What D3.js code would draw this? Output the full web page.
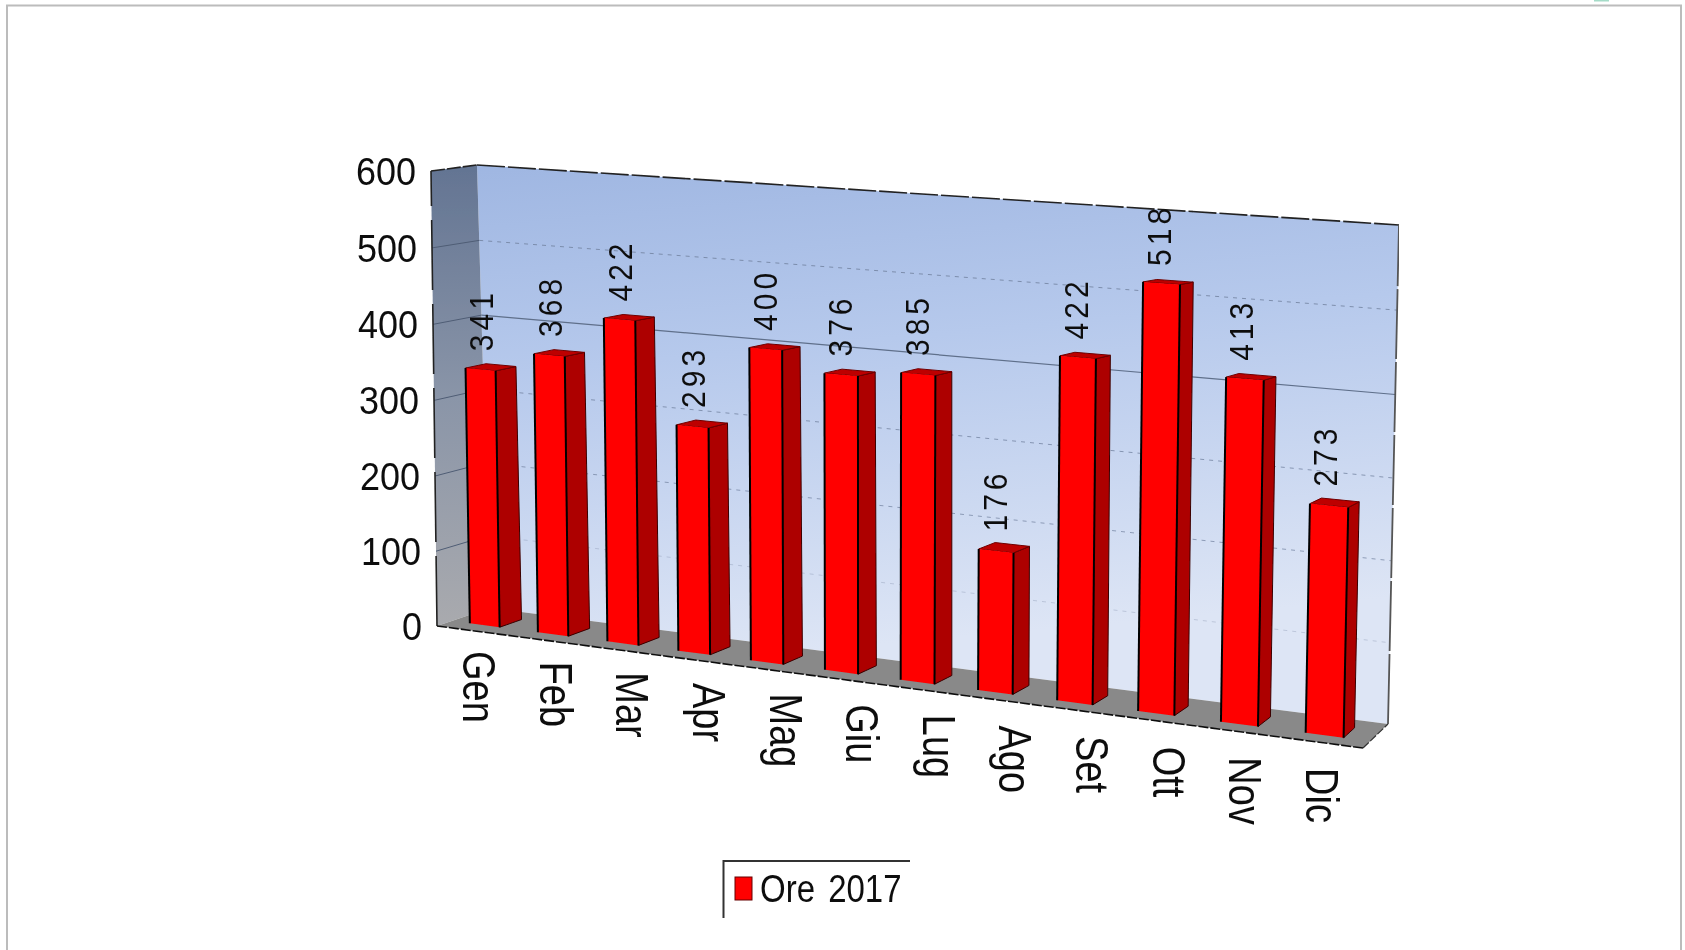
<!DOCTYPE html>
<html>
<head>
<meta charset="utf-8">
<script src="https://cdn.jsdelivr.net/npm/d3@7"></script>
<style>
html,body{margin:0;padding:0;background:#fff;}
svg{display:block;}
text{font-family:"Liberation Sans",Arial,sans-serif;fill:#111;}
</style>
</head>
<body>
<svg id="c" width="1685" height="950"></svg>
<script>
const categories = ["Gen","Feb","Mar","Apr","Mag","Giu","Lug","Ago","Set","Ott","Nov","Dic"];
const values = [341,368,422,293,400,376,385,176,422,518,413,273];
const yTicks = [0,100,200,300,400,500,600];
const seriesName = "Ore 2017";

// corners of the two planes of the 3D box: [bottom-left, bottom-right, top-right, top-left]
const frontQuad = [[437,626],[1363,748],[1374,228],[431,171]];
const backQuad  = [[490,608],[1388,724],[1399,225],[477,165]];
const barZ = [0.28,0.70];

function homography(q){
  const [[x0,y0],[x1,y1],[x2,y2],[x3,y3]] = q;
  const dx1=x1-x2,dx2=x3-x2,sx=x0-x1+x2-x3,dy1=y1-y2,dy2=y3-y2,sy=y0-y1+y2-y3;
  const den=dx1*dy2-dx2*dy1;
  const g=(sx*dy2-dx2*sy)/den,h=(dx1*sy-sx*dy1)/den;
  const a=x1-x0+g*x1,b=x3-x0+h*x3,d=y1-y0+g*y1,e=y3-y0+h*y3;
  return (u,v)=>{const w=g*u+h*v+1;return [(a*u+b*v+x0)/w,(d*u+e*v+y0)/w];};
}
const hF=homography(frontQuad),hB=homography(backQuad);
function P(u,v,z){const a=hF(u,v),b=hB(u,v);return [a[0]+(b[0]-a[0])*z,a[1]+(b[1]-a[1])*z];}

const xBand=d3.scaleBand().domain(categories).range([-0.001,0.998]).paddingInner(0.56).paddingOuter(0.28);
const yVal=d3.scaleLinear().domain([0,600]).range([0,1]);
// category labels sit on an even, straight line below the floor
const labelX=d3.scalePoint().domain(categories).range([463,1306]);
const labelY=d3.scalePoint().domain(categories).range([651,768]);
const gridOpacity=d3.scaleOrdinal().domain([100,200,300,400,500]).range([0.3,0.7,0.75,1,0.8]);
const line=d3.line();

const svg=d3.select("#c");
const defs=svg.append("defs");
const f=defs.append("filter").attr("id","soft").attr("x","0").attr("y","0").attr("width","1").attr("height","1");
f.append("feGaussianBlur").attr("stdDeviation",0.5);
function grad(id,x1,y1,x2,y2,stops){
  const g=defs.append("linearGradient").attr("id",id).attr("gradientUnits","userSpaceOnUse")
    .attr("x1",x1).attr("y1",y1).attr("x2",x2).attr("y2",y2);
  stops.forEach(s=>g.append("stop").attr("offset",s[0]).attr("stop-color",s[1]));
}
grad("wall",0,170,50,720,[[0,"#9bb3e0"],[0.45,"#b6c9ec"],[1,"#dde5f5"]]);
grad("side",0,170,0,626,[[0,"#647593"],[0.5,"#8a95a8"],[1,"#a9aaae"]]);

// page frame
svg.append("path").attr("d","M7,950V5.5H1681V950").attr("fill","none").attr("stroke","#bcbcbc").attr("stroke-width",2);
svg.append("rect").attr("x",1594).attr("y",0).attr("width",15).attr("height",1.5).attr("fill","#a5dcc8");

const g=svg.append("g").attr("filter","url(#soft)");
const poly=(pts,fill)=>g.append("path").attr("d",line(pts)+"Z").attr("fill",fill);

// walls and floor
poly([P(0,0,1),P(1,0,1),P(1,1,1),P(0,1,1)],"url(#wall)");
poly([P(0,0,0),P(0,0,1),P(0,1,1),P(0,1,0)],"url(#side)");
poly([P(0,0,0),P(1,0,0),P(1,0,1),P(0,0,1)],"#898989");

// grid lines
yTicks.filter(t=>t>0&&t<600).forEach(t=>{
  const v=yVal(t);
  g.append("path").attr("d",line([P(0,v,1),P(1,v,1)])).attr("fill","none")
    .attr("stroke",t===400?"#5f6f8a":"#6f7f9c").attr("stroke-width",t===400?1.2:1)
    .attr("stroke-opacity",gridOpacity(t))
    .attr("stroke-dasharray",t===400?null:"4 5");
  g.append("path").attr("d",line([P(0,v,0),P(0,v,1)])).attr("fill","none")
    .attr("stroke","#4f5d75").attr("stroke-width",1);
});

// box edges
const edge=(a,b,c,w,dash)=>g.append("path").attr("d",line([a,b])).attr("fill","none").attr("stroke",c).attr("stroke-width",w).attr("stroke-dasharray",dash);
edge(P(0,1,1),P(1,1,1),"#222",1.6,"28 3");
edge(P(0,1,0),P(0,1,1),"#222",1.6,"14 2");
edge(P(0,0,0),P(0,1,0),"#222",1.6,"70 14");
edge(P(0,0,0),P(1,0,0),"#111",1.6,"10 2");
edge(P(1,0,0),P(1,0,1),"#333",1.2,"8 2");
edge(P(1,0,1),P(1,1,1),"#555",1.8,"70 3");

// bars
categories.forEach((c,i)=>{
  const u0=xBand(c),u1=u0+xBand.bandwidth(),v=yVal(values[i]),z0=barZ[0],z1=barZ[1];
  const bar=g.append("g").attr("stroke-linejoin","round");
  bar.append("path").attr("d",line([P(u1,0,z0),P(u1,0,z1),P(u1,v,z1),P(u1,v,z0)])+"Z").attr("fill","#ad0000").attr("stroke","#3a0000").attr("stroke-width",1);
  bar.append("path").attr("d",line([P(u0,v,z0),P(u1,v,z0),P(u1,v,z1),P(u0,v,z1)])+"Z").attr("fill","#bd0000").attr("stroke","#700000").attr("stroke-width",1);
  bar.append("path").attr("d",line([P(u0,0,z0),P(u1,0,z0),P(u1,v,z0),P(u0,v,z0)])+"Z").attr("fill","#ff0000");
  [u0,u1].forEach(u=>bar.append("path").attr("d",line([P(u,0,z0),P(u,v,z0)])).attr("fill","none").attr("stroke","#000").attr("stroke-width",2));
});

// value labels
categories.forEach((c,i)=>{
  const u=xBand(c)+xBand.bandwidth()/2,p=P(u,yVal(values[i]),0.5);
  g.append("text").attr("transform",`translate(${p[0]+2},${p[1]-16}) rotate(-90) scale(1,1.08)`)
    .attr("font-size",30).attr("letter-spacing",4).text(values[i]);
});

// value axis labels
yTicks.forEach(t=>{
  const p=P(0,yVal(t),0);
  g.append("text").attr("transform",`translate(${p[0]-15},${p[1]+14}) scale(1,1.08)`)
    .attr("text-anchor","end").attr("font-size",36).text(t);
});

// category labels
categories.forEach(c=>{
  g.append("text").attr("transform",`translate(${labelX(c)},${labelY(c)}) rotate(90) scale(1,1.2)`)
    .attr("font-size",38).text(c);
});

// legend
const lg=g.append("g");
lg.append("path").attr("d","M910,861H723.5V918").attr("fill","none").attr("stroke","#333").attr("stroke-width",2);
lg.append("rect").attr("x",735).attr("y",877).attr("width",17).attr("height",23).attr("fill","#ff0000").attr("stroke","#600").attr("stroke-width",1);
lg.append("text").attr("transform","translate(760,902) scale(1,1.15)").attr("font-size",33).attr("word-spacing",4).text(seriesName);
</script>
</body>
</html>
